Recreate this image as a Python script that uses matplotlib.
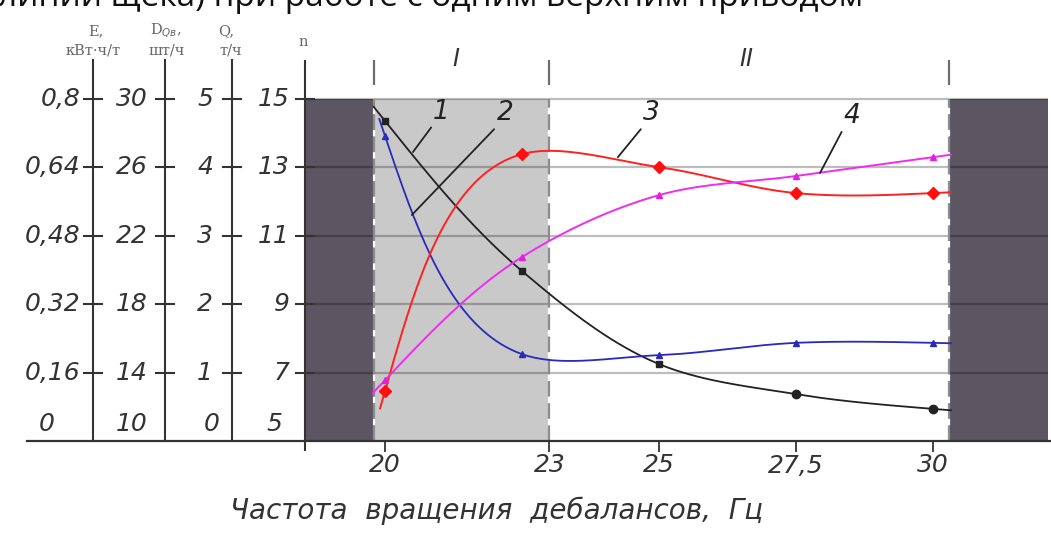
import numpy as np
import matplotlib
matplotlib.use('Agg')
import matplotlib.pyplot as plt
from matplotlib.lines import Line2D
from matplotlib.transforms import blended_transform_factory

# данные (в единицах шкалы n, 5..15)
freq = [20, 22.5, 25, 27.5, 30]
curve1 = [14.36, 9.97, 7.25, 6.37, 5.94]     # 1, чёрная
curve2 = [13.92, 7.54, 7.51, 7.87, 7.87]     # 2, синяя
curve3 = [6.46, 13.39, 13.01, 12.25, 12.25]  # 3, красная
curve4 = [6.78, 10.38, 12.19, 12.75, 13.30]  # 4, розовая

xticks = [20, 23, 25, 27.5, 30]
xtick_labels = ['20', '23', '25', '27,5', '30']
levels = [5, 7, 9, 11, 13, 15]
e_labels = ['0', '0,16', '0,32', '0,48', '0,64', '0,8']
d_labels = ['10', '14', '18', '22', '26', '30']
q_labels = ['0', '1', '2', '3', '4', '5']
n_labels = ['5', '7', '9', '11', '13', '15']

zone_lo, zone_mid, zone_hi = 19.8, 23, 30.3
x_min, x_max = 18.54, 32.1
y_min, y_max = 5, 16.61

W, H = 1051, 534


def smooth(ax, xd, yd, ext=18, n=40):
    # хордовый сплайн Катмулла-Рома в экранных координатах
    P = ax.transData.transform(np.column_stack([xd, yd]))
    d = np.linalg.norm(np.diff(P, axis=0), axis=1)
    k = len(P)
    T = np.zeros_like(P)
    for i in range(1, k - 1):
        T[i] = ((P[i] - P[i - 1]) / d[i - 1] - (P[i + 1] - P[i - 1]) / (d[i - 1] + d[i])
                + (P[i + 1] - P[i]) / d[i])
    T[0] = (3 * (P[1] - P[0]) - T[1] * d[0]) / 2 / d[0]
    T[-1] = (3 * (P[-1] - P[-2]) - T[-2] * d[-1]) / 2 / d[-1]
    s = np.linspace(0, 1, n)[:, None]
    h00 = 2 * s**3 - 3 * s**2 + 1
    h10 = s**3 - 2 * s**2 + s
    h01 = -2 * s**3 + 3 * s**2
    h11 = s**3 - s**2
    parts = [P[0] - ext * T[0] / np.linalg.norm(T[0])]
    for i in range(k - 1):
        parts.extend(h00 * P[i] + h10 * T[i] * d[i] + h01 * P[i + 1] + h11 * T[i + 1] * d[i])
    parts.append(P[-1] + ext * T[-1] / np.linalg.norm(T[-1]))
    pts = ax.transData.inverted().transform(np.array(parts))
    return pts[:, 0], pts[:, 1]


fig = plt.figure(figsize=(W / 100, H / 100), dpi=100)
ax = fig.add_axes([305 / W, (H - 441) / H, 743 / W, (441 - 44) / H])
ax.set_xlim(x_min, x_max)
ax.set_ylim(y_min, y_max)
for s in ax.spines.values():
    s.set_visible(False)
ax.set_yticks([])

# зоны
ax.fill_between([x_min, zone_lo], 5, 15, color='#5b5661', lw=0, zorder=1)
ax.fill_between([zone_hi, x_max], 5, 15, color='#5b5661', lw=0, zorder=1)
ax.fill_between([zone_lo, zone_mid], 5, 15, color='#c9c9c9', lw=0, zorder=1)
ax.hlines(levels[1:], x_min, x_max, color='k', alpha=0.26, lw=1.6, zorder=2)
for xv in [zone_lo, zone_mid, zone_hi]:
    ax.vlines(xv, 5, 15, colors='#8c8c8c', linestyles=(0, (7, 3)), lw=1.6,
              gapcolor='white', zorder=3)
    ax.vlines(xv, 15.42, 16.15, colors='#6e6e6e', lw=1.6, zorder=3)
ax.vlines(x_min, 4.71, 16.15, colors='#333333', lw=1.5, clip_on=False, zorder=4)

ax.text(21.3, 16.17, 'I', fontsize=17, style='italic', color='#333', ha='center', va='center')
ax.text(26.6, 16.17, 'II', fontsize=17, style='italic', color='#333', ha='center', va='center')

# кривые
ax.plot(*smooth(ax, freq, curve1), color='#222222', lw=1.3, zorder=5)
ax.plot(freq[:3], curve1[:3], 's', color='#222222', ms=5, zorder=6)
ax.plot(freq[3:], curve1[3:], 'o', color='#222222', ms=6, zorder=6)
ax.plot(*smooth(ax, freq, curve2), color='#2a2ab8', lw=1.3, zorder=5)
ax.plot(freq, curve2, '^', color='#2a2ab8', ms=4, zorder=6)
ax.plot(*smooth(ax, freq, curve3), color='#ff2020', lw=1.4, zorder=5)
ax.plot(freq, curve3, 'D', color='#ff1010', ms=6.5, zorder=6)
ax.plot(*smooth(ax, freq, curve4), color='#f02cf0', lw=1.4, zorder=5)
ax.plot(freq, curve4, '^', color='#e020e0', ms=5, zorder=6)

# выноски
arrow = dict(arrowstyle='-', color='#222', lw=1.3, shrinkA=0, shrinkB=0, relpos=(0, 0))
for lab, xy, xyt in [('1', (20.51, 13.45), (20.88, 14.25)),
                     ('2', (20.49, 11.61), (22.04, 14.2)),
                     ('3', (24.25, 13.30), (24.71, 14.2)),
                     ('4', (27.94, 12.84), (28.36, 14.12))]:
    ax.annotate(lab, xy=xy, xytext=xyt, fontsize=19, style='italic', color='#222',
                ha='left', va='bottom', arrowprops=arrow, zorder=7)

# ось x
ax.set_xticks(xticks)
ax.set_xticklabels(xtick_labels, fontsize=18, style='italic', color='#333')
ax.tick_params(axis='x', length=8, width=1.3, color='#333', pad=1)
fig.add_artist(Line2D([27 / W, 1], [(H - 441) / H] * 2, color='#333', lw=1.6))
fig.text(497 / W, 1 - 511 / H, 'Частота  вращения  дебалансов,  Гц', fontsize=20,
         style='italic', color='#333', ha='center', va='center')

# левые шкалы
tr = blended_transform_factory(fig.transFigure, ax.transData)
cols = [(93, e_labels, 80, 55), (165, d_labels, 148, 148),
        (232, q_labels, 213, 220), (305, n_labels, 290, 282)]
for xl, labs, xr, xr0 in cols:
    if xl != 305:
        ax.plot([xl / W] * 2, [5, 16.15], transform=tr, color='#333', lw=1.5, clip_on=False)
    for lv, lab in zip(levels, labs):
        if lv == 5:
            ax.text(xr0 / W, 5.5, lab, transform=tr, fontsize=18, style='italic',
                    color='#333', ha='right', va='center')
            continue
        ax.plot([(xl - 9) / W, (xl + 9) / W], [lv, lv], transform=tr, color='#333',
                lw=1.5, clip_on=False)
        ax.text(xr / W, lv, lab, transform=tr, fontsize=18, style='italic',
                color='#333', ha='right', va='center')

# заголовки шкал
hdr = dict(fontsize=10.5, family='DejaVu Serif', color='#666', ha='center', va='center')
fig.text(96 / W, 1 - 31 / H, 'E,', **hdr)
fig.text(93 / W, 1 - 50 / H, 'кВт·ч/т', **hdr)
fig.text(166 / W, 1 - 31 / H, 'D$_{Qв}$,', **hdr)
fig.text(167 / W, 1 - 50 / H, 'шт/ч', **hdr)
fig.text(226 / W, 1 - 31 / H, 'Q,', **hdr)
fig.text(231 / W, 1 - 50 / H, 'т/ч', **hdr)
fig.text(303 / W, 1 - 42 / H, 'n', **hdr)

# обрезанная строка сверху
fig.text(-2 / W, 1 - 6 / H, 'линии щека) при работе с одним верхним приводом',
         fontsize=24, family='Open Sans', color='#111', ha='left', va='baseline')

fig.savefig('out.png', dpi=100, facecolor='white')
